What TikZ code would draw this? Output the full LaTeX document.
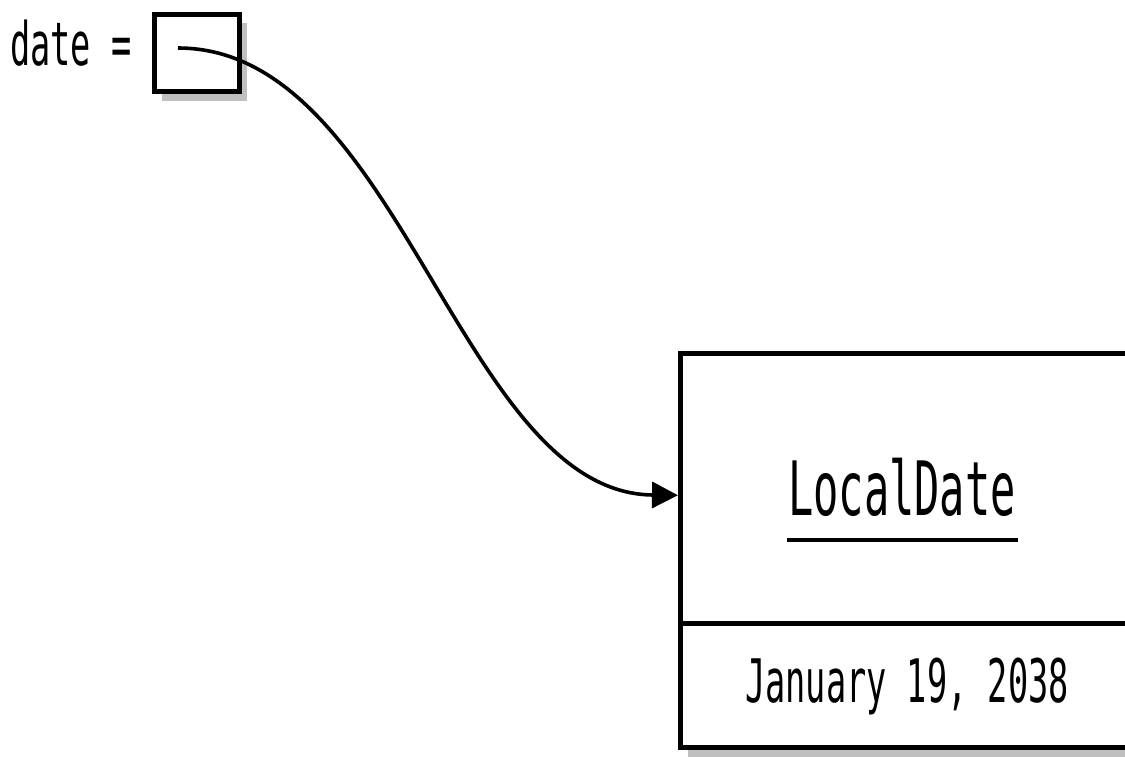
\documentclass[tikz,border=0pt]{standalone}
\usepackage{fontspec}
\newfontfamily\codefont[FakeStretch=0.56]{DejaVu Sans Mono}
\usetikzlibrary{arrows.meta}
\begin{document}
\begin{tikzpicture}[x=1pt,y=-1pt,
  frame/.style={draw=black,line width=4.5pt,fill=white,inner sep=0pt,anchor=north west},
  shadowbox/.style={fill=black!25,draw=none},
  code/.style={font=\codefont\fontsize{60}{72}\selectfont,inner sep=0pt,anchor=base},
  bigcode/.style={code,font=\codefont\fontsize{75}{90}\selectfont},
  pointer/.style={line width=3.6pt,-{Triangle[length=26pt,width=26pt]}}]
\useasboundingbox (0,0) rectangle (1125,756);
\clip (0,0) rectangle (1125,756);

% the reference variable and its cell
\fill[shadowbox] (162,23) rectangle (247,101);
\node[frame,minimum width=85pt,minimum height=77pt] (ref) at (152,12) {};
\node[code,anchor=base west] (lbl) at (10,65) {date =};

% the object it points to
\fill[shadowbox] (688,361) rectangle (1160,757);
\node[frame,minimum width=480pt,minimum height=270pt] (obj) at (678,351) {};
\node[frame,minimum width=480pt,minimum height=124pt] (val) at (678,621) {};
\node[bigcode] (title) at (902,515) {LocalDate};
\draw[line width=3.5pt] (787,540) -- (1018,540);
\node[code] (date) at (907,702) {January 19, 2038};

% the pointer
\coordinate (ptr) at (178,48);
\draw[pointer] (ptr) .. controls (400,48) and (460,493) .. ([yshift=-7pt]obj.west);
\end{tikzpicture}
\end{document}
